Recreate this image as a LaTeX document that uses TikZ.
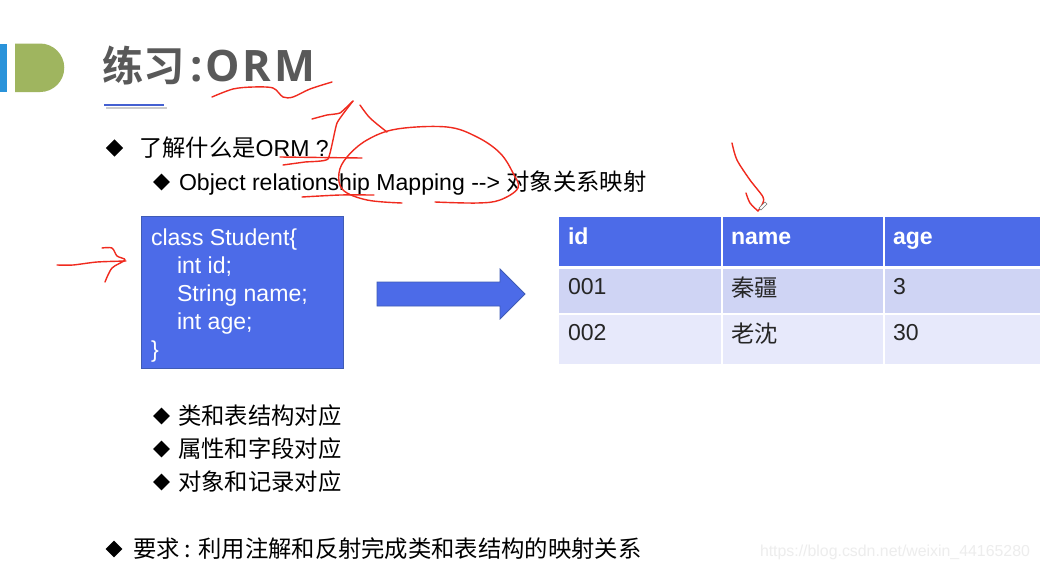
\documentclass[tikz,border=0pt]{standalone}
\usepackage{fontspec}
\setmainfont{Liberation Sans}
\newfontfamily\cjkbase{Noto Sans CJK SC}
\newcommand{\cjk}{\cjkbase\fontsize{17.5}{20}\selectfont}
\newfontfamily\cjkb{Noto Sans CJK SC Bold}
\newfontfamily\titlelat[LetterSpace=7]{Open Sans Bold}
\definecolor{hblue}{HTML}{4C6BE8}
\definecolor{rowa}{HTML}{CFD4F4}
\definecolor{rowb}{HTML}{E7E9FB}
\definecolor{inkred}{HTML}{F02A1E}
\definecolor{logog}{HTML}{9FB55F}
\definecolor{logob}{HTML}{2A93DA}
\definecolor{titleg}{HTML}{595959}
\definecolor{edgeb}{HTML}{3F5BB5}
\usetikzlibrary{shapes.geometric}
\tikzset{
  x=0.75pt,y=-0.75pt,
  txt/.style={anchor=base west,inner sep=0pt,outer sep=0pt,font=\fontsize{17.3}{20}\selectfont,text=black},
  code/.style={txt,text=white},
  headt/.style={txt,text=white,font=\fontsize{17.3}{20}\selectfont\bfseries},
  cell/.style={txt,text=black!85},
  bul/.style={diamond,fill=black,inner sep=0pt,minimum width=13.2pt,minimum height=13.2pt,aspect=1},
  bulb/.style={bul,minimum width=12.6pt,minimum height=12.6pt},
  ink/.style={draw=inkred,line width=1.05pt,line cap=round,line join=round},
}
\begin{document}
\begin{tikzpicture}
\useasboundingbox (0,0) rectangle (1040,569);
\fill[white] (0,0) rectangle (1040,569);
% logo
\fill[logob] (0,44) rectangle (7,92);
\fill[logog] (15,43.5) -- (40,43.5) arc[start angle=90,end angle=-90,radius=18.2pt] -- (15,92) -- cycle;
% title
\node[txt,text=titleg,font=\fontsize{31}{34}\selectfont] (title) at (102.5,81) {\cjkb 练习};
\node[txt,text=titleg,font=\fontsize{32.5}{36}\selectfont] (titleb) at (190,81) {\titlelat :ORM};
\fill[black!20] (106,106.5) rectangle (167,108.5);
\fill[hblue!90!black] (104,104) rectangle (164,106);
% bullets
\node[bul] (b1) at (114.5,148) {};
\node[txt] (t1) at (139,156) {{\cjk 了解什么是}ORM ?};
\node[bulb] (b2) at (161.5,182) {};
\node[txt] (t2) at (179,190) {Object relationship Mapping {-}{-}> {\cjk 对象关系映射}};
% class box
\node[draw=edgeb,fill=hblue,line width=0.8pt,minimum width=151.6pt,minimum height=114pt,inner sep=0pt,anchor=north west] (box) at (141,216) {};
\node[code] (c1) at (151,245) {class Student\{};
\node[code] (c2) at (177,273) {int id;};
\node[code] (c3) at (177,301) {String name;};
\node[code] (c4) at (177,329) {int age;};
\node[code] (c5) at (151,357) {\}};
% block arrow
\draw[draw=edgeb,fill=hblue,line width=0.6pt,line join=miter] (377,282) -- (500,282) -- (500,269) -- (525,294) -- (500,319) -- (500,306) -- (377,306) -- cycle;
% table
\fill[hblue] (559,217) rectangle (721,266);
\fill[hblue] (722.5,217) rectangle (883,266);
\fill[hblue] (885,217) rectangle (1040,266);
\fill[rowa] (559,269) rectangle (721,313);
\fill[rowa] (722.5,269) rectangle (883,313);
\fill[rowa] (885,269) rectangle (1040,313);
\fill[rowb] (559,315) rectangle (721,364);
\fill[rowb] (722.5,315) rectangle (883,364);
\fill[rowb] (885,315) rectangle (1040,364);
\node[headt] (h1) at (568,244) {id};
\node[headt] (h2) at (731,244) {name};
\node[headt] (h3) at (893,244) {age};
\node[cell] (a1) at (568,294) {001};
\node[cell] (a2) at (731,296) {\cjk 秦疆};
\node[cell] (a3) at (893,294) {3};
\node[cell] (d1) at (568,340) {002};
\node[cell] (d2) at (731,342) {\cjk 老沈};
\node[cell] (d3) at (893,340) {30};
% lower bullets
\node[bulb] (l1) at (161.5,416) {};
\node[txt] (lt1) at (178,424) {\cjk 类和表结构对应};
\node[bulb] (l2) at (161.5,449) {};
\node[txt] (lt2) at (178,457) {\cjk 属性和字段对应};
\node[bulb] (l3) at (161.5,482) {};
\node[txt] (lt3) at (178,490) {\cjk 对象和记录对应};
\node[bulb] (r1) at (114,549) {};
\node[txt] (rt) at (133,557) {\cjk 要求 : 利用注解和反射完成类和表结构的映射关系};
% watermark
\node[txt,text=black!7,font=\fontsize{11.9}{14}\selectfont] (wm) at (760,556) {https://blog.csdn.net/weixin\_44165280};
% ink strokes
\draw[ink] plot[smooth,tension=0.5] coordinates {(212,97) (233,89) (253,87) (273,88) (283,97) (293,97) (310,89) (332,82)};
\draw[ink] plot[smooth,tension=0.25] coordinates {(283,165) (305,162) (328,159) (337,123) (353,101)};
\draw[ink] plot[smooth,tension=0.25] coordinates {(312,119) (327,115) (340,113) (353,101)};
\draw[ink] (280,157) -- (362,158);
\draw[ink] plot[smooth,tension=0.5] coordinates {(360,105) (370,118) (387,132)};
\draw[ink] plot[smooth,tension=0.6] coordinates {(402,203) (367,200) (343,190) (339,173) (347,157) (367,140) (397,129) (447,127) (477,137) (500,153) (513,173) (518,188) (500,200) (477,203) (435,202)};
\draw[ink] plot[smooth,tension=0.4] coordinates {(302,197) (340,195) (374,195)};
\draw[ink] plot[smooth,tension=0.5] coordinates {(732,143) (737,160) (750,180) (763,197) (762,205) (758,211)};
\draw[ink] plot[smooth,tension=0.5] coordinates {(746,193) (750,203) (758,211)};
\draw[ink] plot[smooth,tension=0.4] coordinates {(57,265) (73,265) (97,262) (126,261)};
\draw[ink] plot[smooth,tension=0.5] coordinates {(102,248) (112,248) (117,256) (125,260) (112,268) (105,282)};
% pen cursor
\draw[black!55,fill=white,line width=0.4pt] (759,208) -- (765,202) -- (767,204) -- (761,210) -- cycle;
\end{tikzpicture}
\end{document}
